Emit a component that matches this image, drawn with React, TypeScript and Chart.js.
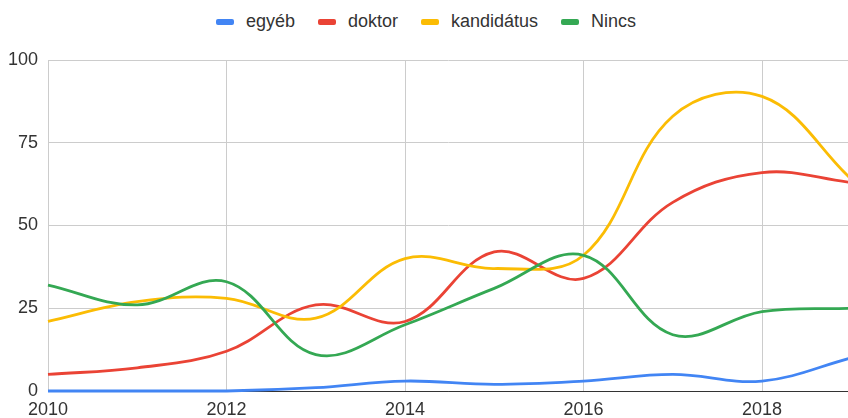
import React, { useEffect, useRef } from 'react';
import { Chart, registerables } from 'chart.js';

Chart.register(...registerables);

const years = [2010, 2011, 2012, 2013, 2014, 2015, 2016, 2017, 2018, 2019];
const seriesNames = ['egyéb', 'doktor', 'kandidátus', 'Nincs'];
const egyeb = [0, 0, 0, 1, 3, 2, 3, 5, 3, 10];
const doktor = [5, 7, 12, 26, 21, 42, 34, 57, 66, 63];
const kandidatus = [21, 27, 28, 22, 40, 37, 41, 83, 89, 64];
const nincs = [32, 26, 33, 11, 20, 31, 41, 17, 24, 25];
const seriesColors = ['#4285F4', '#EA4335', '#FBBC04', '#34A853'];
const xTickValues = [2010, 2012, 2014, 2016, 2018];
const yTickValues = [0, 25, 50, 75, 100];

const FONT = 'Arial, "Liberation Sans", sans-serif';

export default function App() {
  const ref = useRef<HTMLCanvasElement | null>(null);

  useEffect(() => {
    if (!ref.current) return;
    const all = [egyeb, doktor, kandidatus, nincs];
    const chart = new Chart(ref.current, {
      type: 'line',
      data: {
        datasets: all.map((vals, i) => ({
          label: seriesNames[i],
          data: years.map((yr, j) => ({ x: yr, y: vals[j] })),
          borderColor: seriesColors[i],
          backgroundColor: seriesColors[i],
          borderWidth: 2.8,
          pointRadius: 0,
          pointHoverRadius: 0,
          tension: 0.38,
          fill: false,
          order: all.length - i,
          clip: 6,
        })),
      },
      options: {
        animation: false,
        responsive: false,
        maintainAspectRatio: false,
        layout: { padding: { top: 60, left: 0, right: 0, bottom: 0 } },
        plugins: { legend: { display: false }, tooltip: { enabled: false } },
        scales: {
          x: {
            type: 'linear',
            min: 2010,
            max: 2010 + 800 / 89.25,
            afterBuildTicks: (s: any) => {
              s.ticks = xTickValues.map((v) => ({ value: v }));
            },
            afterFit: (s: any) => {
              s.height = 27;
            },
            ticks: {
              includeBounds: false,
              autoSkip: false,
              maxRotation: 0,
              padding: 8,
              color: '#333',
              font: { family: FONT, size: 18 },
              callback: (v: any) => String(v),
            },
            grid: { color: '#cccccc', lineWidth: 1, drawTicks: false },
            border: { display: true, color: '#333333', width: 1 },
          },
          y: {
            type: 'linear',
            min: 0,
            max: 100,
            afterBuildTicks: (s: any) => {
              s.ticks = yTickValues.map((v) => ({ value: v }));
            },
            afterFit: (s: any) => {
              s.width = 48;
            },
            ticks: {
              padding: 10,
              color: '#333',
              font: { family: FONT, size: 18 },
              callback: (v: any) => String(v),
            },
            grid: {
              color: (c: any) => (c.tick && c.tick.value === 0 ? '#333333' : '#cccccc'),
              lineWidth: 1,
              drawTicks: false,
            },
            border: { display: true, color: '#cccccc', width: 1 },
          },
        },
      },
    });
    return () => chart.destroy();
  }, []);

  return (
    <div style={{ position: 'fixed', left: 0, top: 0, width: 848, height: 418, background: '#fff' }}>
      <div
        style={{
          position: 'absolute',
          left: 2,
          top: 0,
          width: 848,
          height: 42,
          display: 'flex',
          justifyContent: 'center',
          alignItems: 'center',
          gap: 23,
          fontFamily: FONT,
          fontSize: 18,
          color: '#333',
        }}
      >
        {seriesNames.map((n, i) => (
          <div key={n} style={{ display: 'flex', alignItems: 'center' }}>
            <span
              style={{
                display: 'inline-block',
                width: 18,
                height: 6,
                borderRadius: 2,
                background: seriesColors[i],
                marginRight: 12,
                marginTop: 1,
              }}
            />
            <span>{n}</span>
          </div>
        ))}
      </div>
      <canvas ref={ref} width={848} height={418} style={{ position: 'absolute', left: 0, top: 0, width: 848, height: 418 }} />
    </div>
  );
}
